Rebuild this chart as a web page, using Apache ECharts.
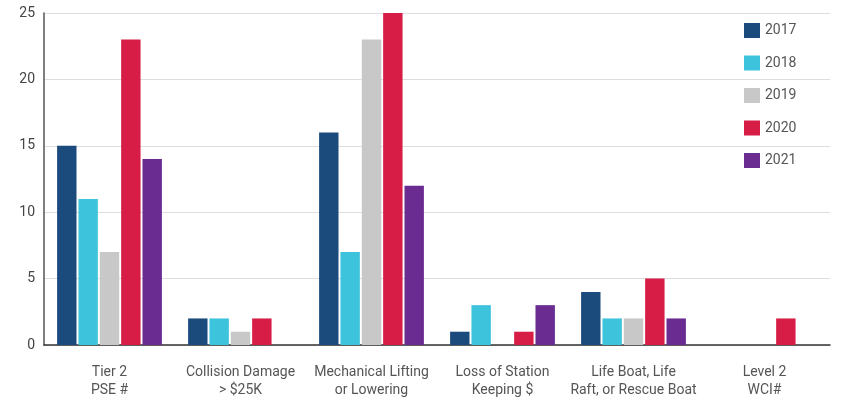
<!DOCTYPE html>
<html>
<head>
<meta charset="utf-8">
<script src="https://cdn.jsdelivr.net/npm/echarts@6/dist/echarts.min.js"></script>
<style>
  html, body { margin: 0; padding: 0; background: #fff; }
  #chart { width: 846px; height: 409px; }
</style>
</head>
<body>
<div id="chart"></div>
<script>
// Incident categories along the x axis
const categories = [
  'Tier 2\nPSE #',
  'Collision Damage\n> $25K',
  'Mechanical Lifting\nor Lowering',
  'Loss of Station\nKeeping $',
  'Life Boat, Life\nRaft, or Rescue Boat',
  'Level 2\nWCI#'
];

// Yearly counts per category
const years = ['2017', '2018', '2019', '2020', '2021'];
const v2017 = [15, 2, 16, 1, 4, 0];
const v2018 = [11, 2, 7, 3, 2, 0];
const v2019 = [7, 1, 23, 0, 2, 0];
const v2020 = [23, 2, 25, 1, 5, 2];
const v2021 = [14, 0, 12, 3, 2, 0];

const yTicks = [0, 5, 10, 15, 20, 25];

const colors = ['#1b4a7c', '#3ec3dc', '#c8c8c8', '#d71d45', '#6a2c90'];
const seriesValues = [v2017, v2018, v2019, v2020, v2021];

const chart = echarts.init(document.getElementById('chart'));
chart.setOption({
  animation: false,
  textStyle: { fontFamily: 'Roboto' },
  grid: { left: 44, right: 16, top: 13, bottom: 64 },
  legend: {
    orient: 'vertical',
    left: 739,
    top: 18,
    itemWidth: 16,
    itemHeight: 15,
    itemGap: 17.5,
    icon: 'rect',
    data: years,
    textStyle: { color: '#555', fontSize: 14, fontFamily: 'Roboto' }
  },
  xAxis: {
    type: 'category',
    data: categories,
    axisTick: { show: false },
    axisLine: { lineStyle: { color: '#333', width: 1.5 } },
    axisLabel: { color: '#555', fontSize: 14, lineHeight: 18, margin: 18, interval: 0 }
  },
  yAxis: {
    type: 'value',
    min: yTicks[0],
    max: yTicks[yTicks.length - 1],
    interval: 5,
    axisLine: { show: true, lineStyle: { color: '#555', width: 1.5 } },
    axisTick: { show: false },
    axisLabel: { color: '#444', fontSize: 14, margin: 9 },
    splitLine: { lineStyle: { color: '#dedede' } }
  },
  series: years.map((y, i) => ({
    name: y,
    type: 'bar',
    data: seriesValues[i],
    itemStyle: { color: colors[i] },
    barGap: '10%',
    barCategoryGap: '20%'
  }))
});
</script>
</body>
</html>
